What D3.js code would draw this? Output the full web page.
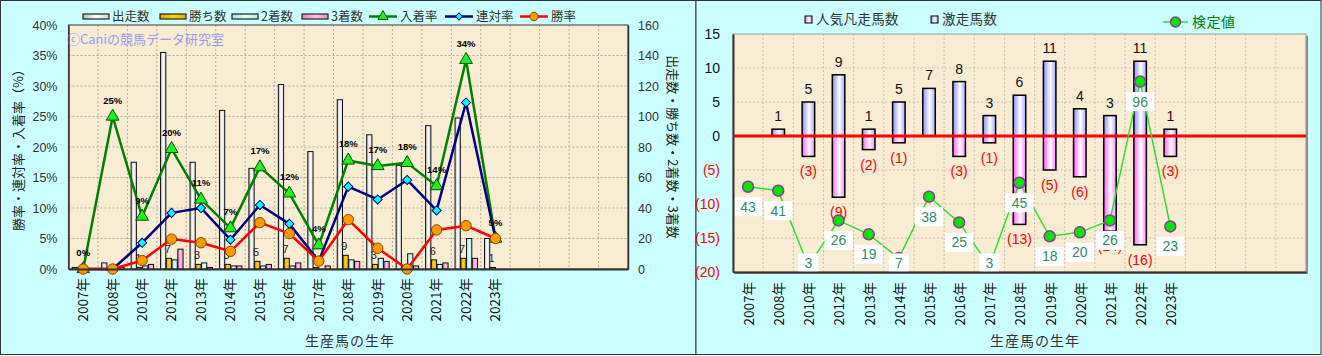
<!DOCTYPE html>
<html><head><meta charset="utf-8">
<script src="https://cdn.jsdelivr.net/npm/d3@7"></script>
<style>
html,body{margin:0;padding:0;background:#fff;}
svg text{font-family:"Noto Sans CJK JP","Noto Sans",sans-serif;}
</style></head>
<body><svg id="c" width="1322" height="356"></svg>
<script>
// ---------- data ----------
const years = ["2007年","2008年","2010年","2012年","2013年","2014年","2015年","2016年","2017年","2018年","2019年","2020年","2021年","2022年","2023年"];
const slotCount = 19;
// left chart
const starts  = [1,4,70,142,70,104,66,121,77,111,88,68,94,99,20];
const wins    = [0,0,1,7,3,3,5,7,1,9,3,0,6,7,1];
const seconds = [0,0,2,6,4,2,2,2,0,6,7,10,3,20,0];
const thirds  = [0,1,3,13,1,2,3,4,2,5,5,2,4,7,0];
const placeRate    = [0,25,8.6,19.7,11.4,6.7,16.7,12.4,3.9,17.8,16.9,17.4,13.6,34.3,5];
const quinellaRate = [0,0,4.3,9.2,10,4.8,10.5,7.4,1.3,13.5,11.4,14.6,9.6,27.3,5];
const winRate      = [0,0,1.4,4.9,4.3,2.9,7.6,5.8,1.3,8.1,3.4,0,6.4,7.1,5];
const placeLabels  = ["0%","25%","9%","20%","11%","7%","17%","12%","4%","18%","17%","18%","14%","34%","5%"];
const leftPctTicks = [0,5,10,15,20,25,30,35,40];
const leftCntTicks = [0,20,40,60,80,100,120,140,160];
// right chart
const gekisou = [0,1,5,9,1,5,7,8,3,6,11,4,3,11,1];
const bonsou  = [0,0,3,9,2,1,0,3,1,13,5,6,14,16,3];
const kentei  = [43,41,3,26,19,7,38,25,3,45,18,20,26,96,23];
const rightTicks = [-20,-15,-10,-5,0,5,10,15];

const svg = d3.select("#c");
const defs = svg.append("defs");
function hgrad(id, stops){
  const g = defs.append("linearGradient").attr("id",id).attr("x1","0").attr("x2","1").attr("y1","0").attr("y2","0");
  stops.forEach(s=>g.append("stop").attr("offset",s[0]).attr("stop-color",s[1]));
}
hgrad("gStart",[[0,"#b8b8b8"],[0.5,"#ffffff"],[1,"#d0d0d0"]]);
hgrad("gWin",[[0,"#d9a600"],[0.5,"#ffd11a"],[1,"#e0ad00"]]);
hgrad("gSec",[[0,"#9fe0e0"],[0.5,"#e0ffff"],[1,"#b0eaea"]]);
hgrad("gThird",[[0,"#f07cc0"],[0.5,"#ffc0e0"],[1,"#f590c8"]]);
hgrad("gBlue",[[0,"#8c8cff"],[0.55,"#ffffff"],[1,"#a8a8ff"]]);
hgrad("gPink",[[0,"#ff5cff"],[0.55,"#ffffff"],[1,"#ff85ff"]]);

// panels
svg.append("rect").attr("x",0.5).attr("y",0.5).attr("width",695.5).attr("height",354).attr("fill","#ccffff").attr("stroke","#333").attr("stroke-width",1);
svg.append("rect").attr("x",696).attr("y",0.5).attr("width",625).attr("height",354).attr("fill","#ccffff").attr("stroke","#333").attr("stroke-width",1);

const idx = d3.range(years.length);

// ================= LEFT CHART =================
const L = {x0:68.5,x1:628,y0:25,y1:269};
const xL = d3.scaleBand().domain(d3.range(slotCount)).range([L.x0,L.x1]);
const yP = d3.scaleLinear().domain([0,40]).range([L.y1,L.y0]);
const yC = d3.scaleLinear().domain([0,160]).range([L.y1,L.y0]);
const gL = svg.append("g");
gL.append("rect").attr("x",L.x0).attr("y",L.y0).attr("width",L.x1-L.x0).attr("height",L.y1-L.y0).attr("fill","#f8ecd3");
// grid
gL.append("g").selectAll("line").data(leftPctTicks.slice(1,-1)).join("line")
  .attr("x1",L.x0).attr("x2",L.x1).attr("y1",d=>yP(d)).attr("y2",d=>yP(d))
  .attr("stroke","#b5ada0").attr("stroke-dasharray","2,2").attr("stroke-width",1);
gL.append("g").selectAll("line").data(d3.range(1,slotCount)).join("line")
  .attr("x1",d=>xL(d)).attr("x2",d=>xL(d)).attr("y1",L.y0).attr("y2",L.y1)
  .attr("stroke","#b5ada0").attr("stroke-dasharray","2,2").attr("stroke-width",1);
gL.append("rect").attr("x",L.x0).attr("y",L.y0).attr("width",L.x1-L.x0).attr("height",L.y1-L.y0).attr("fill","none").attr("stroke","#555").attr("stroke-width",1.2);

// bars
const groupW = 23;
const sub = d3.scaleBand().domain([0,1,2,3]).range([0,groupW]);
const series = [[starts,"gStart",yC],[wins,"gWin",yC],[seconds,"gSec",yC],[thirds,"gThird",yC]];
series.forEach((s,si)=>{
  gL.append("g").selectAll("rect").data(idx.filter(i=>s[0][i]>0)).join("rect")
    .attr("x",i=>xL(i)+(xL.bandwidth()-groupW)/2+sub(si)+0.5)
    .attr("width",sub.bandwidth()-0.5)
    .attr("y",i=>yC(s[0][i]))
    .attr("height",i=>L.y1-yC(s[0][i]))
    .attr("fill","url(#"+s[1]+")").attr("stroke","#111").attr("stroke-width",1);
});
// win count labels
gL.append("g").selectAll("text").data(idx.filter(i=>wins[i]>0)).join("text")
  .attr("x",i=>xL(i)+(xL.bandwidth()-groupW)/2+sub(1)+sub.bandwidth()/2-1)
  .attr("y",i=>yC(wins[i])-5)
  .attr("text-anchor","middle").attr("font-size",11).attr("fill","#222")
  .style("font-family","'Liberation Sans',sans-serif")
  .text(i=>wins[i]);

// lines
const cx = i=>xL(i)+xL.bandwidth()/2;
function drawLine(vals,color){
  gL.append("path").datum(idx).attr("fill","none").attr("stroke",color).attr("stroke-width",2.5)
    .attr("stroke-linejoin","round")
    .attr("d",d3.line().x(i=>cx(i)).y(i=>yP(vals[i])));
}
drawLine(placeRate,"#008000");
gL.append("g").selectAll("path").data(idx).join("path")
  .attr("transform",i=>`translate(${cx(i)},${yP(placeRate[i])})`)
  .attr("d",d3.symbol(d3.symbolTriangle,70)).attr("fill","#22ee22").attr("stroke","#005500").attr("stroke-width",1);
drawLine(quinellaRate,"#000080");
gL.append("g").selectAll("path").data(idx).join("path")
  .attr("transform",i=>`translate(${cx(i)},${yP(quinellaRate[i])}) rotate(45)`)
  .attr("d",d3.symbol(d3.symbolSquare,42)).attr("fill","#00ffff").attr("stroke","#000080").attr("stroke-width",1);
drawLine(winRate,"#ff0000");
gL.append("g").selectAll("circle").data(idx).join("circle")
  .attr("cx",cx).attr("cy",i=>yP(winRate[i])).attr("r",5.2)
  .attr("fill","#ff9900").attr("stroke","#7a4a00").attr("stroke-width",1);
// % labels
gL.append("g").selectAll("text").data(idx).join("text")
  .attr("x",cx).attr("y",i=>yP(placeRate[i])-13)
  .attr("text-anchor","middle").attr("font-size",9.5).attr("font-weight","bold").attr("fill","#000")
  .style("font-family","'Liberation Sans',sans-serif")
  .text(i=>placeLabels[i]);

// axes
const axL = gL.append("g").attr("transform",`translate(${L.x0},0)`)
  .call(d3.axisLeft(yP).tickValues(leftPctTicks).tickSize(0).tickPadding(11).tickFormat(d=>d+"%"));
axL.select(".domain").attr("stroke","#333").attr("stroke-width",1.5);
axL.selectAll("text").attr("font-size",12.5).attr("fill","#333").style("font-family","'Liberation Sans',sans-serif");
const axR = gL.append("g").attr("transform",`translate(${L.x1},0)`)
  .call(d3.axisRight(yC).tickValues(leftCntTicks).tickSize(0).tickPadding(10));
axR.select(".domain").attr("stroke","#333").attr("stroke-width",1.5);
axR.selectAll("text").attr("font-size",12.5).attr("fill","#333").style("font-family","'Liberation Sans',sans-serif");
const axB = gL.append("g").attr("transform",`translate(0,${L.y1})`)
  .call(d3.axisBottom(xL).tickSize(0).tickFormat(""));
axB.select(".domain").attr("stroke","#333").attr("stroke-width",2);
gL.append("g").selectAll("text").data(idx).join("text")
  .attr("transform",i=>`translate(${cx(i)},${278}) rotate(-90)`)
  .attr("text-anchor","end").attr("dy","0.36em").attr("font-size",13.5).attr("fill","#111")
  .text(i=>years[i]);
// titles
gL.append("text").attr("transform",`translate(18,${(L.y0+L.y1)/2}) rotate(-90)`)
  .attr("text-anchor","middle").attr("dy","0.35em").attr("font-size",13).attr("fill","#222").text("勝率・連対率・入着率（%）");
gL.append("text").attr("transform",`translate(673,${(L.y0+L.y1)/2}) rotate(90)`)
  .attr("text-anchor","middle").attr("dy","0.35em").attr("font-size",13).attr("fill","#222").text("出走数・勝ち数・2着数・3着数");
gL.append("text").attr("x",350).attr("y",346).attr("text-anchor","middle").attr("font-size",14).attr("fill","#333").attr("letter-spacing",1).text("生産馬の生年");
gL.append("text").attr("x",67).attr("y",44).attr("font-size",13).attr("fill","#9a9af0").text("ⓒCaniの競馬データ研究室");

// legend left
const legY = 16.5;
const barLeg = [["出走数","gStart",83],["勝ち数","gWin",160],["2着数","gSec",232],["3着数","gThird",302]];
barLeg.forEach(d=>{
  gL.append("rect").attr("x",d[2]).attr("y",legY-2.5).attr("width",26).attr("height",5).attr("fill","url(#"+d[1]+")").attr("stroke","#222").attr("stroke-width",1.2);
  gL.append("text").attr("x",d[2]+29).attr("y",legY).attr("dy","0.35em").attr("font-size",12.5).attr("fill","#333").text(d[0]);
});
const lineLeg = [["入着率","#008000",369,"tri"],["連対率","#000080",445,"dia"],["勝率","#ff0000",520,"cir"]];
lineLeg.forEach(d=>{
  gL.append("line").attr("x1",d[2]).attr("x2",d[2]+28).attr("y1",legY).attr("y2",legY).attr("stroke",d[1]).attr("stroke-width",2.5);
  const m = d[2]+14;
  if(d[3]==="tri") gL.append("path").attr("transform",`translate(${m},${legY})`).attr("d",d3.symbol(d3.symbolTriangle,45)).attr("fill","#22ee22").attr("stroke","#005500");
  if(d[3]==="dia") gL.append("path").attr("transform",`translate(${m},${legY}) rotate(45)`).attr("d",d3.symbol(d3.symbolSquare,26)).attr("fill","#00ffff").attr("stroke","#000080");
  if(d[3]==="cir") gL.append("circle").attr("cx",m).attr("cy",legY).attr("r",4.2).attr("fill","#ff9900").attr("stroke","#7a4a00");
  gL.append("text").attr("x",d[2]+31).attr("y",legY).attr("dy","0.35em").attr("font-size",12.5).attr("fill","#333").text(d[0]);
});

// ================= RIGHT CHART =================
const R = {x0:733,x1:1306,y0:34,y1:272};
const xR = d3.scaleBand().domain(d3.range(slotCount)).range([R.x0,R.x1]);
const yR = d3.scaleLinear().domain([-20,15]).range([R.y1,R.y0]);
const yK = d3.scaleLinear().domain([0,120]).range([R.y1,R.y0]);
const gR = svg.append("g");
gR.append("rect").attr("x",R.x0+2).attr("y",R.y0+2).attr("width",R.x1-R.x0).attr("height",R.y1-R.y0).attr("fill","#8a8a8a");
gR.append("rect").attr("x",R.x0).attr("y",R.y0).attr("width",R.x1-R.x0).attr("height",R.y1-R.y0).attr("fill","#f8ecd3").attr("stroke","#999").attr("stroke-width",1);
gR.append("g").selectAll("line").data(rightTicks.slice(1,-1)).join("line")
  .attr("x1",R.x0).attr("x2",R.x1).attr("y1",d=>yR(d)).attr("y2",d=>yR(d))
  .attr("stroke","#c8c0b2").attr("stroke-dasharray","2,2");
gR.append("g").selectAll("line").data(d3.range(1,slotCount)).join("line")
  .attr("x1",d=>xR(d)).attr("x2",d=>xR(d)).attr("y1",R.y0).attr("y2",R.y1)
  .attr("stroke","#c8c0b2").attr("stroke-dasharray","2,2");
const rcx = i=>xR(i)+xR.bandwidth()/2;
const bw = 12.5;
gR.append("g").selectAll("rect").data(idx.filter(i=>gekisou[i]>0)).join("rect")
  .attr("x",i=>rcx(i)-bw/2).attr("width",bw).attr("y",i=>yR(gekisou[i])).attr("height",i=>yR(0)-yR(gekisou[i]))
  .attr("fill","url(#gBlue)").attr("stroke","#000").attr("stroke-width",1.5);
gR.append("g").selectAll("rect").data(idx.filter(i=>bonsou[i]>0)).join("rect")
  .attr("x",i=>rcx(i)-bw/2).attr("width",bw).attr("y",yR(0)).attr("height",i=>yR(-bonsou[i])-yR(0))
  .attr("fill","url(#gPink)").attr("stroke","#000").attr("stroke-width",1.5);
gR.append("g").selectAll("text").data(idx.filter(i=>gekisou[i]>0)).join("text")
  .attr("x",rcx).attr("y",i=>yR(gekisou[i])-13).attr("dy","0.35em").attr("text-anchor","middle")
  .attr("font-size",14).attr("fill","#111").style("font-family","'Liberation Sans',sans-serif").text(i=>gekisou[i]);
gR.append("g").selectAll("text").data(idx.filter(i=>bonsou[i]>0)).join("text")
  .attr("x",rcx).attr("y",i=>yR(-bonsou[i])+15).attr("dy","0.35em").attr("text-anchor","middle")
  .attr("font-size",14).attr("fill","#ff0000").style("font-family","'Liberation Sans',sans-serif").text(i=>"("+bonsou[i]+")");
// zero line
gR.append("line").attr("x1",R.x0).attr("x2",R.x1).attr("y1",yR(0)).attr("y2",yR(0)).attr("stroke","#ff0000").attr("stroke-width",3);
// kentei line
gR.append("path").datum(idx).attr("fill","none").attr("stroke","#33dd33").attr("stroke-width",1.5)
  .attr("d",d3.line().x(rcx).y(i=>yK(kentei[i])));
gR.append("g").selectAll("circle").data(idx).join("circle")
  .attr("cx",rcx).attr("cy",i=>yK(kentei[i])).attr("r",5.5)
  .attr("fill","#00e600").attr("stroke","#993399").attr("stroke-width",1.5);
const kl = gR.append("g").selectAll("g").data(idx).join("g")
  .attr("transform",i=>`translate(${rcx(i)},${Math.min(yK(kentei[i])+20,R.y1-9)})`);
kl.append("rect").attr("x",i=>-(String(kentei[i]).length*4+6)).attr("y",-9.5)
  .attr("width",i=>String(kentei[i]).length*8+12).attr("height",19).attr("fill","#fff");
kl.append("text").attr("text-anchor","middle").attr("dy","0.36em").attr("font-size",14).attr("fill","#2e8b6a")
  .style("font-family","'Liberation Sans',sans-serif").text(i=>kentei[i]);
// axes
const ayR = gR.append("g").attr("transform",`translate(${R.x0},0)`)
  .call(d3.axisLeft(yR).tickValues(rightTicks).tickSize(0).tickPadding(13).tickFormat(d=>d<0?"("+(-d)+")":d));
ayR.select(".domain").attr("stroke","#333").attr("stroke-width",2);
ayR.selectAll("text").attr("font-size",14).attr("fill",d=>d<0?"#ff0000":"#111").style("font-family","'Liberation Sans',sans-serif");
const axRB = gR.append("g").attr("transform",`translate(0,${R.y1})`).call(d3.axisBottom(xR).tickSize(0).tickFormat(""));
axRB.select(".domain").attr("stroke","#333").attr("stroke-width",2);
gR.append("g").selectAll("text").data(idx).join("text")
  .attr("transform",i=>`translate(${rcx(i)+1},${282}) rotate(-90)`)
  .attr("text-anchor","end").attr("dy","0.36em").attr("font-size",13.5).attr("fill","#111")
  .text(i=>years[i]);
gR.append("text").attr("x",1035).attr("y",346).attr("text-anchor","middle").attr("font-size",14).attr("fill","#333").attr("letter-spacing",1).text("生産馬の生年");
// legend right
const rl = 19.5;
gR.append("rect").attr("x",805).attr("y",rl-3.5).attr("width",7).attr("height",7).attr("fill","url(#gPink)").attr("stroke","#000");
gR.append("text").attr("x",816).attr("y",rl).attr("dy","0.35em").attr("font-size",13.5).attr("fill","#333").attr("letter-spacing",0.3).text("人気凡走馬数");
gR.append("rect").attr("x",931).attr("y",rl-3.5).attr("width",7).attr("height",7).attr("fill","url(#gBlue)").attr("stroke","#000");
gR.append("text").attr("x",942).attr("y",rl).attr("dy","0.35em").attr("font-size",13.5).attr("fill","#333").attr("letter-spacing",0.3).text("激走馬数");
gR.append("line").attr("x1",1163).attr("x2",1188).attr("y1",22).attr("y2",22).attr("stroke","#33dd33").attr("stroke-width",1.5);
gR.append("circle").attr("cx",1175.5).attr("cy",22).attr("r",5).attr("fill","#00e600").attr("stroke","#993399").attr("stroke-width",1.5);
gR.append("text").attr("x",1192).attr("y",22).attr("dy","0.35em").attr("font-size",14).attr("fill","#008000").attr("letter-spacing",0.5).text("検定値");
</script></body></html>
